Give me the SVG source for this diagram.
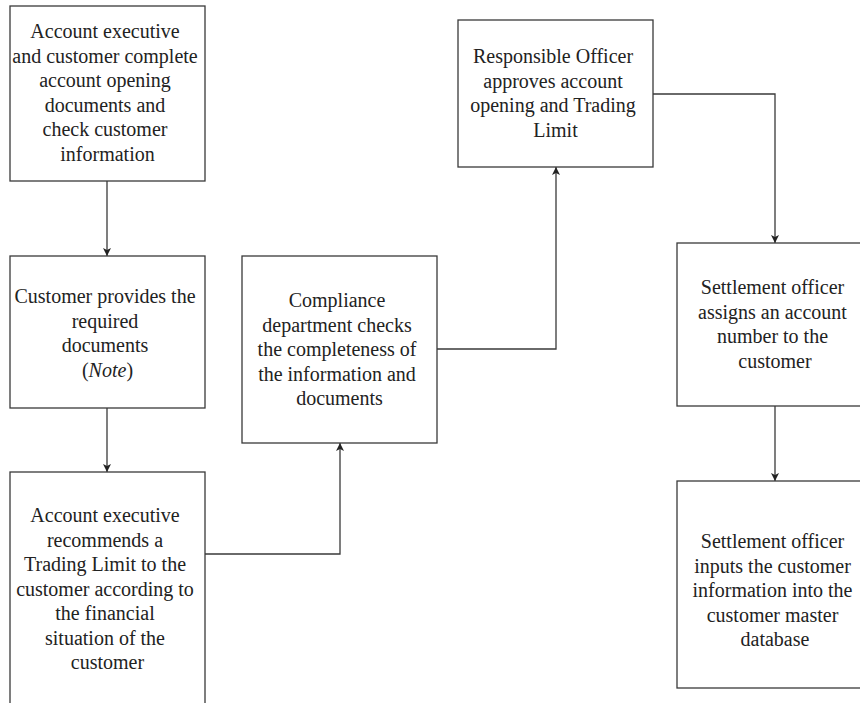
<svg xmlns="http://www.w3.org/2000/svg" width="860" height="703" viewBox="0 0 860 703">
  <style>
    .box { fill: #ffffff; stroke: #3a3a3a; stroke-width: 1.3; }
    .lbl { font-family: "Liberation Serif", "Times New Roman", serif; font-size: 20px; fill: #222222; text-anchor: middle; }
    .conn { fill: none; stroke: #3a3a3a; stroke-width: 1.3; marker-end: url(#arrow); }
  </style>
  <defs>
    <marker id="arrow" markerUnits="userSpaceOnUse" markerWidth="8" markerHeight="10" refX="8" refY="4" orient="auto">
      <path d="M0,0 L8,4 L0,8 L2,4 Z" fill="#222222"/>
    </marker>
  </defs>
  <rect width="860" height="703" fill="#ffffff"/>

  <g id="connectors">
    <path class="conn" d="M107,181 L107,256"/>
    <path class="conn" d="M107,408 L107,472"/>
    <path class="conn" d="M205,554 L340,554 L340,443"/>
    <path class="conn" d="M437,349 L556,349 L556,167"/>
    <path class="conn" d="M653,94 L775,94 L775,243"/>
    <path class="conn" d="M775,406 L775,481"/>
  </g>

  <g id="open-documents">
    <rect class="box" x="10" y="6" width="195" height="175"/>
    <text class="lbl">
      <tspan x="107.5" y="38">Account executive</tspan>
      <tspan x="107.5" y="62.5">and customer complete</tspan>
      <tspan x="107.5" y="87">account opening</tspan>
      <tspan x="107.5" y="111.5">documents and</tspan>
      <tspan x="107.5" y="136">check customer</tspan>
      <tspan x="107.5" y="160.5">information</tspan>
    </text>
  </g>

  <g id="provide-documents">
    <rect class="box" x="10" y="256" width="195" height="152"/>
    <text class="lbl">
      <tspan x="107.5" y="303">Customer provides the</tspan>
      <tspan x="107.5" y="327.5">required</tspan>
      <tspan x="107.5" y="352">documents</tspan>
      <tspan x="107.5" y="376.5">(<tspan font-style="italic">Note</tspan>)</tspan>
    </text>
  </g>

  <g id="recommend-limit">
    <rect class="box" x="10" y="472" width="195" height="250"/>
    <text class="lbl">
      <tspan x="107.5" y="522">Account executive</tspan>
      <tspan x="107.5" y="546.5">recommends a</tspan>
      <tspan x="107.5" y="571">Trading Limit to the</tspan>
      <tspan x="107.5" y="595.5">customer according to</tspan>
      <tspan x="107.5" y="620">the financial</tspan>
      <tspan x="107.5" y="644.5">situation of the</tspan>
      <tspan x="107.5" y="669">customer</tspan>
    </text>
  </g>

  <g id="compliance-check">
    <rect class="box" x="242" y="256" width="195" height="187"/>
    <text class="lbl">
      <tspan x="339.5" y="307">Compliance</tspan>
      <tspan x="339.5" y="331.5">department checks</tspan>
      <tspan x="339.5" y="356">the completeness of</tspan>
      <tspan x="339.5" y="380.5">the information and</tspan>
      <tspan x="339.5" y="405">documents</tspan>
    </text>
  </g>

  <g id="officer-approval">
    <rect class="box" x="458" y="20" width="195" height="147"/>
    <text class="lbl">
      <tspan x="555.5" y="63">Responsible Officer</tspan>
      <tspan x="555.5" y="87.5">approves account</tspan>
      <tspan x="555.5" y="112">opening and Trading</tspan>
      <tspan x="555.5" y="136.5">Limit</tspan>
    </text>
  </g>

  <g id="assign-number">
    <rect class="box" x="677" y="243" width="196" height="163"/>
    <text class="lbl">
      <tspan x="775" y="294">Settlement officer</tspan>
      <tspan x="775" y="318.5">assigns an account</tspan>
      <tspan x="775" y="343">number to the</tspan>
      <tspan x="775" y="367.5">customer</tspan>
    </text>
  </g>

  <g id="input-database">
    <rect class="box" x="677" y="481" width="196" height="207"/>
    <text class="lbl">
      <tspan x="775" y="548">Settlement officer</tspan>
      <tspan x="775" y="572.5">inputs the customer</tspan>
      <tspan x="775" y="597">information into the</tspan>
      <tspan x="775" y="621.5">customer master</tspan>
      <tspan x="775" y="646">database</tspan>
    </text>
  </g>
</svg>
